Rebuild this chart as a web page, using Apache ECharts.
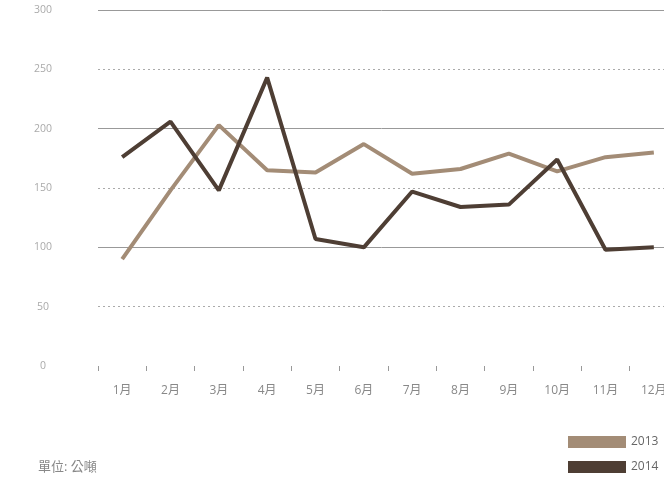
<!DOCTYPE html>
<html>
<head>
<meta charset="utf-8">
<script src="https://cdn.jsdelivr.net/npm/echarts@6/dist/echarts.min.js"></script>
<style>
  html, body { margin: 0; padding: 0; background: #fff; }
  #chart { width: 664px; height: 479px; }
</style>
</head>
<body>
<div id="chart"></div>
<script>
// Monthly volume, two years
const months = ['1月', '2月', '3月', '4月', '5月', '6月', '7月', '8月', '9月', '10月', '11月', '12月'];
const series2013 = [90, 148, 203, 165, 163, 187, 162, 166, 179, 164, 176, 180];
const series2014 = [176, 206, 148, 243, 107, 100, 147, 134, 136, 174, 98, 100];
const yTicks = [0, 50, 100, 150, 200, 250, 300];

const chart = echarts.init(document.getElementById('chart'));
const yMin = yTicks[0], yMax = yTicks[yTicks.length - 1];
const fontFamily = '"Open Sans", "Noto Sans CJK TC", sans-serif';

chart.setOption({
  animation: false,
  grid: { left: 98, width: 580, top: 10, bottom: 113, outerBoundsMode: 'none' },
  legend: {
    orient: 'vertical',
    left: 568,
    top: 436,
    padding: 0,
    icon: 'rect',
    itemWidth: 58,
    itemHeight: 12,
    itemGap: 13,
    textStyle: { color: '#666', fontSize: 12, fontFamily },
    data: ['2013', '2014']
  },
  graphic: [{
    type: 'text',
    left: 38,
    top: 461,
    style: { text: '單位: 公噸', fill: '#888', font: '13px ' + fontFamily }
  }],
  xAxis: {
    type: 'category',
    data: months,
    boundaryGap: true,
    offset: 6,
    axisLine: { show: false },
    axisTick: { show: true, length: 5, lineStyle: { color: '#999' } },
    axisLabel: { color: '#888', fontSize: 12, margin: 13, fontFamily },
    splitLine: { show: false }
  },
  yAxis: [{
    type: 'value',
    min: yMin, max: yMax, interval: 50,
    axisLine: { show: false },
    axisTick: { show: false },
    axisLabel: { color: '#aaa', fontSize: 10.5, margin: 55, align: 'center', fontFamily },
    splitLine: { show: true, showMinLine: false, lineStyle: { color: '#aaa', type: [2, 3], width: 1 } }
  }, {
    type: 'value',
    position: 'left',
    min: yMin, max: yMax, interval: 100,
    axisLine: { show: false },
    axisTick: { show: false },
    axisLabel: { show: false },
    splitLine: { show: true, showMinLine: false, lineStyle: { color: '#999', type: 'solid', width: 1 } }
  }],
  series: [{
    name: '2013',
    type: 'line',
    data: series2013,
    symbol: 'none',
    lineStyle: { color: '#a38c76', width: 4 },
    itemStyle: { color: '#a38c76' },
    z: 3
  }, {
    name: '2014',
    type: 'line',
    data: series2014,
    symbol: 'none',
    lineStyle: { color: '#4e3e34', width: 4 },
    itemStyle: { color: '#4e3e34' },
    z: 4
  }]
});
</script>
</body>
</html>
